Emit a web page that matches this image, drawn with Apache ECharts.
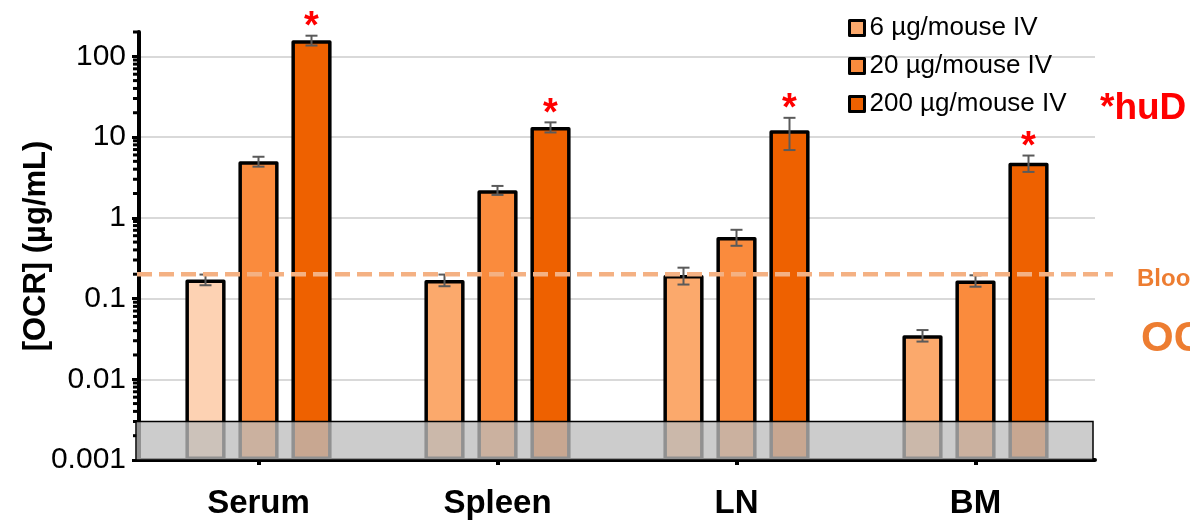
<!DOCTYPE html>
<html>
<head>
<meta charset="utf-8">
<script src="https://cdn.jsdelivr.net/npm/echarts@6/dist/echarts.min.js"></script>
<style>
  html, body { margin: 0; padding: 0; background: #fff; }
  #chart { width: 1190px; height: 520px; }
</style>
</head>
<body>
<div id="chart"></div>
<script>
// Tissue concentrations of OCR after IV dosing (log scale, mean ± SD)
const categories = ['Serum', 'Spleen', 'LN', 'BM'];
const doseNames = ['6 µg/mouse IV', '20 µg/mouse IV', '200 µg/mouse IV'];
const conc6 = [0.172, 0.17, 0.195, 0.035];
const conc20 = [5.0, 2.2, 0.58, 0.167];
const conc200 = [158, 13.3, 12.1, 4.8];
const sd6 = [0.026, 0.028, 0.046, 0.0057];
const sd20 = [0.7, 0.28, 0.13, 0.027];
const sd200 = [22, 1.9, 5.2, 1.1];
const starred200 = [true, true, true, true];
const bloodLloq = 0.2;
const assayLloq = 0.003;
const yMin = 0.001;
const yMax = 200;
const yTickLabels = ['0.001', '0.01', '0.1', '1', '10', '100'];
const minorSteps = [2, 3, 4, 5, 6, 7, 8, 9];

const FONT = "'Liberation Sans', Arial, sans-serif";
const BAR_W = 0.168;      // bar width as a share of the category band
const BAR_GAP = 0.32;     // gap between bars as a share of bar width
const doseColors = ['#FBA96C', '#FA8B3D', '#EE6100'];
const serumLowColor = '#FDD2B3';

const concs = [conc6, conc20, conc200];
const sds = [sd6, sd20, sd200];

function barCenterX(api, ci, si, v) {
  const band = api.size([1, 0])[0];
  const bw = band * BAR_W;
  const gap = bw * BAR_GAP;
  return api.coord([ci, v])[0] + (si - 1) * (bw + gap);
}

// bar series
const barSeries = doseNames.map((name, si) => ({
  name: name,
  type: 'bar',
  barWidth: (BAR_W * 100) + '%',
  barGap: (BAR_GAP * 100) + '%',
  z: 2,
  itemStyle: { color: doseColors[si], borderColor: '#000', borderWidth: 3.5, borderJoin: 'round' },
  data: concs[si].map((v, ci) =>
    (si === 0 && ci === 0) ? { value: v, itemStyle: { color: serumLowColor } } : v)
}));

// error bars
const errData = [];
concs.forEach((arr, si) => arr.forEach((v, ci) => errData.push([ci, si, v, sds[si][ci]])));

const errSeries = {
  type: 'custom',
  z: 5,
  silent: true,
  clip: false,
  encode: { x: 0, y: 2 },
  data: errData,
  renderItem: function (params, api) {
    const ci = api.value(0), si = api.value(1), m = api.value(2), sd = api.value(3);
    const cx = barCenterX(api, ci, si, m);
    const yHi = api.coord([ci, m + sd])[1];
    const yLo = api.coord([ci, m - sd])[1];
    const cap = 6;
    const st = { stroke: '#5A5A5A', lineWidth: 2 };
    return {
      type: 'group',
      children: [
        { type: 'line', shape: { x1: cx, y1: yHi, x2: cx, y2: yLo }, style: st },
        { type: 'line', shape: { x1: cx - cap, y1: yHi, x2: cx + cap, y2: yHi }, style: st },
        { type: 'line', shape: { x1: cx - cap, y1: yLo, x2: cx + cap, y2: yLo }, style: st }
      ]
    };
  }
};

// significance asterisks over the high dose
const starData = [];
conc200.forEach((v, ci) => { if (starred200[ci]) starData.push([ci, 2, v, sd200[ci]]); });
const starSeries = {
  type: 'custom',
  z: 6,
  silent: true,
  clip: false,
  encode: { x: 0, y: 2 },
  data: starData,
  renderItem: function (params, api) {
    const ci = api.value(0), si = api.value(1), m = api.value(2), sd = api.value(3);
    const cx = barCenterX(api, ci, si, m);
    const yHi = api.coord([ci, m + sd])[1];
    return {
      type: 'text',
      style: {
        text: '*', x: cx, y: yHi + 11,
        align: 'center', verticalAlign: 'bottom',
        fill: '#FF0000', font: 'bold 38px ' + FONT
      }
    };
  }
};

// lower limit of quantitation band
const lloqSeries = {
  type: 'custom',
  z: 10,
  silent: true,
  clip: false,
  data: [[0, assayLloq]],
  encode: { x: 0, y: 1 },
  renderItem: function (params, api) {
    const cs = params.coordSys;
    const yTop = api.coord([0, assayLloq])[1];
    const yBot = api.coord([0, yMin])[1];
    return {
      type: 'rect',
      shape: { x: cs.x - 3, y: yTop, width: cs.width + 1, height: yBot - yTop },
      style: { fill: 'rgba(188,188,188,0.77)', stroke: '#000', lineWidth: 1.5 }
    };
  }
};

// blood LLOQ reference line
const bloodSeries = {
  type: 'custom',
  z: 12,
  silent: true,
  clip: false,
  data: [[0, bloodLloq]],
  encode: { x: 0, y: 1 },
  renderItem: function (params, api) {
    const cs = params.coordSys;
    const y = api.coord([0, bloodLloq])[1];
    return {
      type: 'line',
      shape: { x1: cs.x - 2, y1: y, x2: cs.x + cs.width + 18, y2: y },
      style: { stroke: '#F4B183', lineWidth: 4.5, lineDash: [15, 7] }
    };
  }
};

// minor log ticks on the value axis
const minorData = [];
for (let e = -3; e <= 2; e++) {
  minorSteps.forEach(k => {
    const v = k * Math.pow(10, e);
    if (v <= yMax) minorData.push([0, v]);
  });
}
const minorTickSeries = {
  type: 'custom',
  z: 8,
  silent: true,
  clip: false,
  data: minorData,
  encode: { x: 0, y: 1 },
  renderItem: function (params, api) {
    const cs = params.coordSys;
    const y = api.coord([0, api.value(1)])[1];
    return {
      type: 'line',
      shape: { x1: cs.x - 6, y1: y, x2: cs.x, y2: y },
      style: { stroke: '#000', lineWidth: 3 }
    };
  }
};

function isDecade(v) {
  const l = Math.log10(v);
  return Math.abs(l - Math.round(l)) < 1e-6;
}

const chart = echarts.init(document.getElementById('chart'), null, { renderer: 'canvas' });
chart.setOption({
  animation: false,
  backgroundColor: '#fff',
  textStyle: { fontFamily: FONT },
  grid: { left: 139, right: 95, top: 32, bottom: 58, containLabel: false },
  legend: {
    orient: 'vertical',
    left: 843,
    top: 10,
    itemWidth: 15,
    itemHeight: 15,
    itemGap: 12,
    icon: 'rect',
    itemStyle: { borderColor: '#000', borderWidth: 3 },
    textStyle: { fontSize: 26, color: '#000', fontFamily: FONT },
    data: doseNames
  },
  xAxis: {
    type: 'category',
    data: categories,
    axisLine: { lineStyle: { color: '#000', width: 4 } },
    axisTick: { show: true, alignWithLabel: true, length: 5, lineStyle: { color: '#000', width: 4 } },
    axisLabel: { fontSize: 33, fontWeight: 'bold', color: '#000', margin: 27, fontFamily: FONT }
  },
  yAxis: {
    type: 'log',
    logBase: 10,
    min: yMin,
    max: yMax,
    startValue: yMin,
    name: '[OCR] (µg/mL)',
    nameLocation: 'middle',
    nameRotate: 90,
    nameGap: 87,
    nameMoveOverlap: false,
    nameTextStyle: { fontSize: 31, fontWeight: 'bold', color: '#000', fontFamily: FONT },
    axisLine: { show: true, lineStyle: { color: '#000', width: 4 } },
    axisTick: { show: true, inside: false, length: 7, lineStyle: { color: '#000', width: 3 } },
    minorTick: { show: false },
    splitLine: { show: true, showMinLine: false, showMaxLine: false, lineStyle: { color: '#D9D9D9', width: 2 } },
    axisLabel: {
      fontSize: 30, color: '#000', margin: 13, fontFamily: FONT,
      showMaxLabel: false,
      formatter: function (v) {
        if (!isDecade(v)) return '';
        return yTickLabels[Math.round(Math.log10(v)) + 3] || '';
      }
    }
  },
  graphic: [
    { type: 'text', left: 1100, top: 90, style: { text: '*huD', fill: '#FF0000', font: 'bold 37px ' + FONT } },
    { type: 'text', left: 1137, top: 267, style: { text: 'Bloo', fill: '#ED7D31', font: 'bold 24px ' + FONT } },
    { type: 'text', left: 1141, top: 318, style: { text: 'OC', fill: '#ED7D31', font: 'bold 42px ' + FONT } }
  ],
  series: [...barSeries, errSeries, starSeries, lloqSeries, bloodSeries, minorTickSeries]
});
</script>
</body>
</html>
